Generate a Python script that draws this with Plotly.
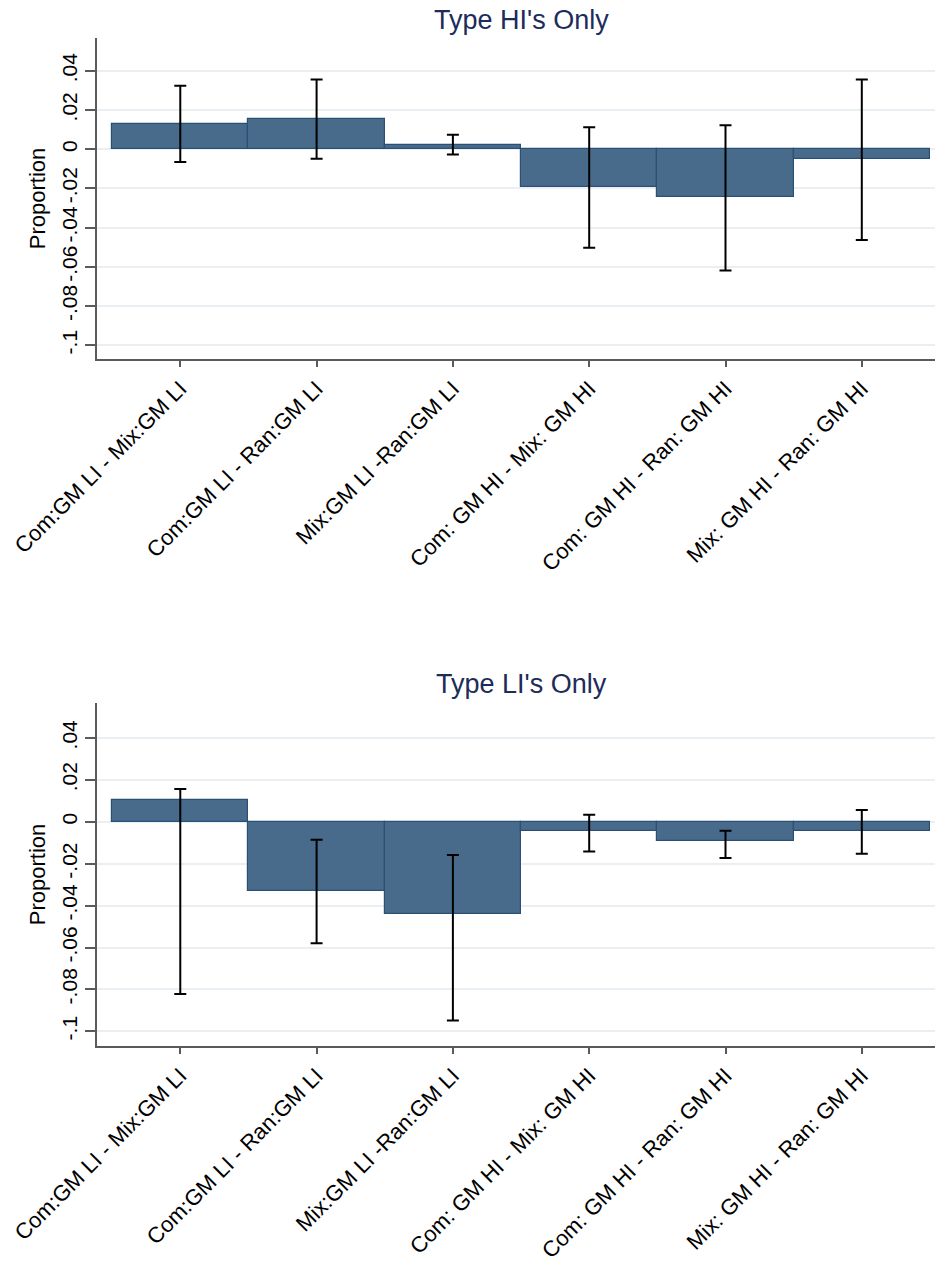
import plotly.graph_objects as go
from plotly.subplots import make_subplots

# Pairwise comparisons shown on the x axis
categories = [
    "Com:GM LI - Mix:GM LI",
    "Com:GM LI - Ran:GM LI",
    "Mix:GM LI -Ran:GM LI",
    "Com: GM HI - Mix: GM HI",
    "Com: GM HI - Ran: GM HI",
    "Mix: GM HI - Ran: GM HI",
]

# Type HI's only: difference in proportion with confidence bounds
hi_diff = [0.0129, 0.0152, 0.0019, -0.0194, -0.0246, -0.0051]
hi_upper = [0.0323, 0.0356, 0.0073, 0.0112, 0.0122, 0.0356]
hi_lower = [-0.0065, -0.0049, -0.0027, -0.0503, -0.0619, -0.0463]

# Type LI's only
li_diff = [0.0104, -0.0331, -0.0438, -0.0046, -0.0091, -0.0042]
li_upper = [0.0157, -0.0086, -0.0158, 0.0034, -0.0043, 0.0056]
li_lower = [-0.0822, -0.0580, -0.0948, -0.0142, -0.0173, -0.0153]

panel_titles = ["Type HI's Only", "Type LI's Only"]

y_tick_vals = [-0.1, -0.08, -0.06, -0.04, -0.02, 0, 0.02, 0.04]
y_tick_text = ["-.1", "-.08", "-.06", "-.04", "-.02", "0", ".02", ".04"]

W, H = 935, 1273
FONT = "Liberation Sans, Arial, Helvetica, sans-serif"
BAR_FILL = "#486b8c"
BAR_EDGE = "#2a5175"
GRID = "#e9eff2"
AXIS = "#5a5a5a"
TITLE_COLOR = "#1d2c5a"

fig = make_subplots(rows=2, cols=1)

x_pos = list(range(len(categories)))
panels = [(hi_diff, hi_upper, hi_lower), (li_diff, li_upper, li_lower)]

for i, (diff, upper, lower) in enumerate(panels, start=1):
    plus = [u - d for u, d in zip(upper, diff)]
    minus = [d - l for d, l in zip(diff, lower)]
    fig.add_trace(
        go.Bar(
            x=x_pos,
            y=diff,
            width=1.0,
            marker=dict(color=BAR_FILL, line=dict(color=BAR_EDGE, width=1.2)),
            error_y=dict(
                type="data",
                symmetric=False,
                array=plus,
                arrayminus=minus,
                color="black",
                thickness=2,
                width=6,
            ),
            showlegend=False,
        ),
        row=i,
        col=1,
    )

# panel placement in pixels (top, bottom) of each plotting area
panel_px = [(38, 359), (703, 1046)]
title_px = [20, 684]

for i, ((top, bottom), ty) in enumerate(zip(panel_px, title_px), start=1):
    ax = "" if i == 1 else str(i)
    fig.layout["yaxis" + ax].update(
        domain=[1 - bottom / H, 1 - top / H],
        range=[-0.107, 0.0567],
        tickvals=y_tick_vals,
        ticktext=y_tick_text,
        tickangle=-90,
        tickfont=dict(family=FONT, size=21, color="black"),
        ticks="outside",
        ticklen=10,
        tickwidth=1.5,
        tickcolor=AXIS,
        showline=True,
        linecolor=AXIS,
        linewidth=2,
        showgrid=True,
        gridcolor=GRID,
        gridwidth=1.5,
        zeroline=False,
        title=dict(text="Proportion", font=dict(family=FONT, size=22, color="black"), standoff=6),
    )
    fig.layout["xaxis" + ax].update(
        range=[-0.611, 5.537],
        tickvals=x_pos,
        ticktext=categories,
        tickangle=-45,
        tickfont=dict(family=FONT, size=22, color="black"),
        ticks="outside",
        ticklen=6,
        tickwidth=1.5,
        tickcolor=AXIS,
        showline=True,
        linecolor=AXIS,
        linewidth=2,
        showgrid=False,
        zeroline=False,
    )
    # panel title over the plotting area
    fig.add_annotation(
        text=panel_titles[i - 1],
        x=0.506,
        y=1 - ty / H,
        xref="paper",
        yref="paper",
        xanchor="center",
        yanchor="middle",
        showarrow=False,
        font=dict(family=FONT, size=27, color=TITLE_COLOR),
    )

fig.update_layout(
    width=W,
    height=H,
    margin=dict(l=97, r=0, t=0, b=0),
    paper_bgcolor="white",
    plot_bgcolor="white",
    bargap=0,
)
fig.layout.xaxis.domain = [0, 1]
fig.layout.xaxis2.domain = [0, 1]
fig.layout.xaxis.automargin = False
fig.layout.xaxis2.automargin = False
fig.layout.yaxis.automargin = False
fig.layout.yaxis2.automargin = False

fig.write_html("out.html")
